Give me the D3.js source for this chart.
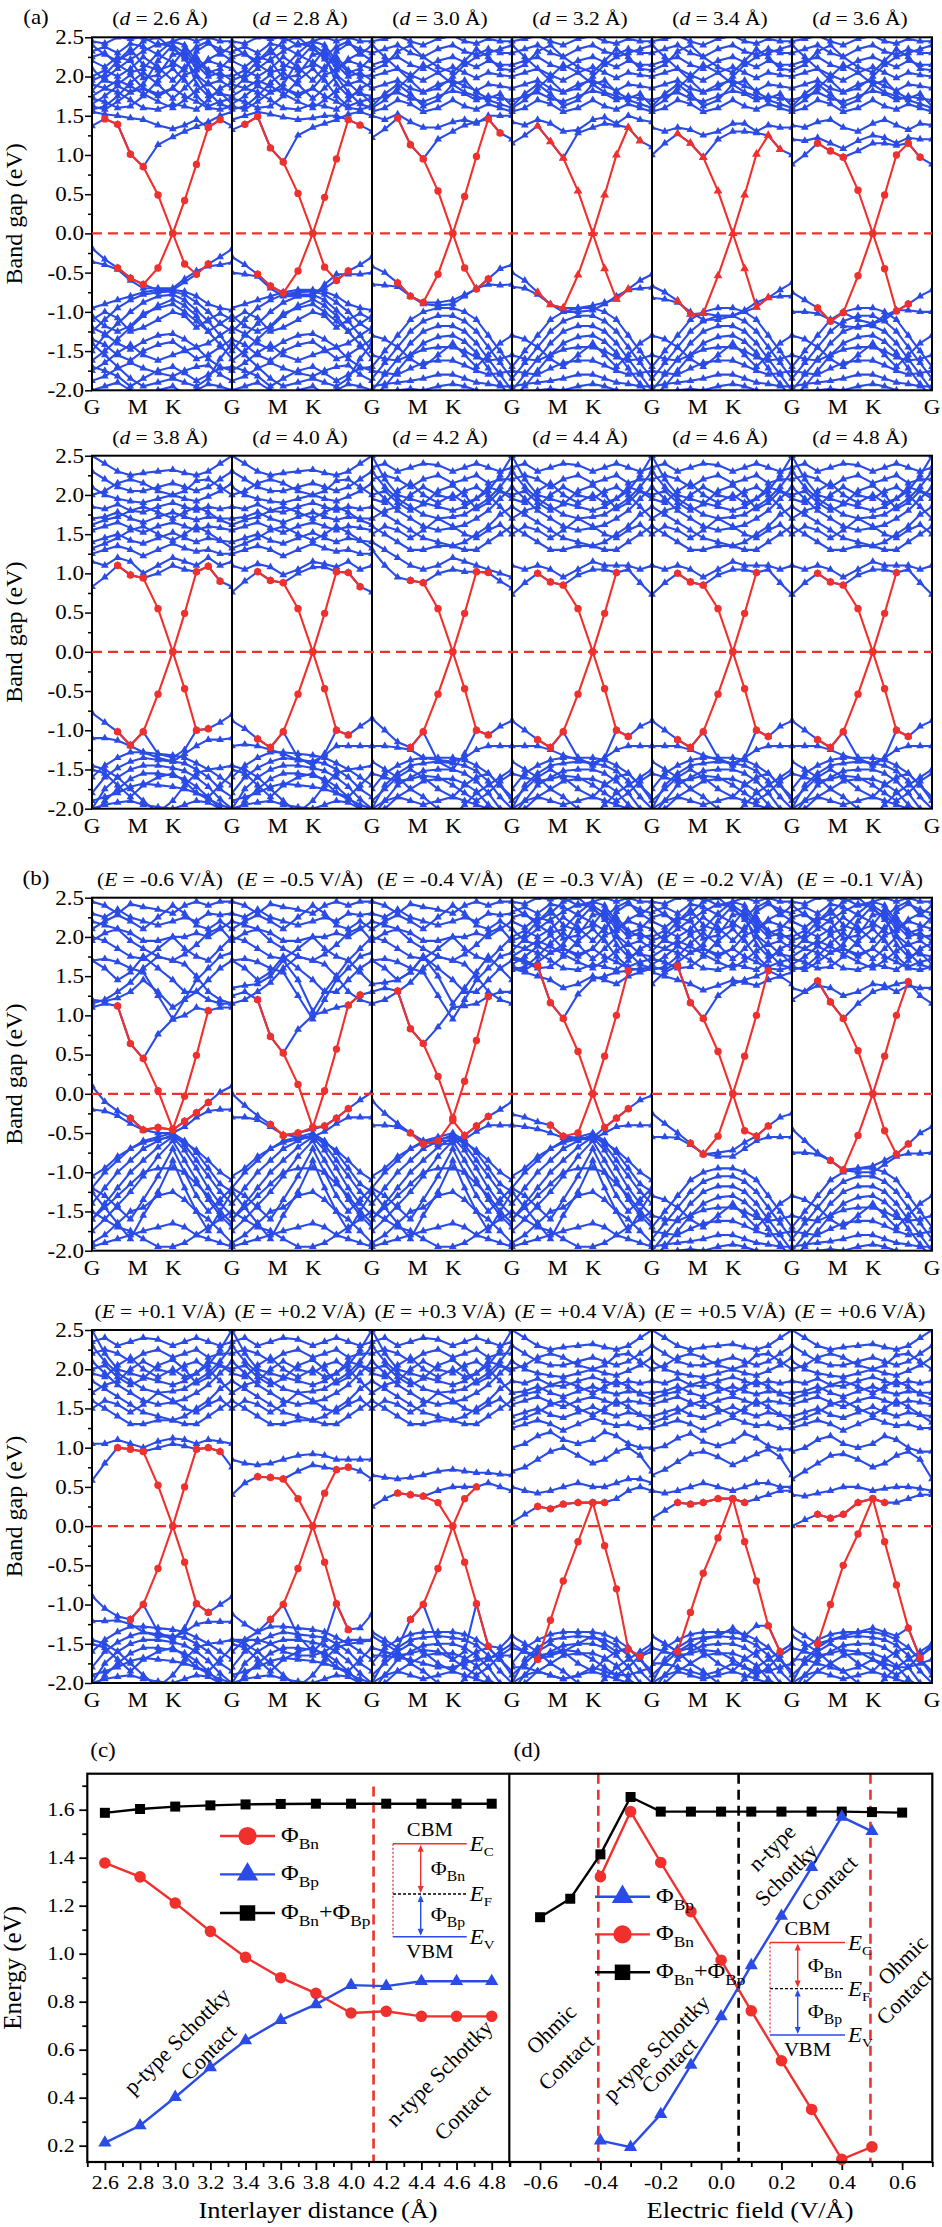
<!DOCTYPE html>
<html>
<head>
<meta charset="utf-8">
<script src="https://cdn.jsdelivr.net/npm/d3@7"></script>
<style>
  body { margin: 0; background: #fff; }
  text { font-family: "Liberation Serif", "Times New Roman", serif; fill: #000; }
</style>
</head>
<body>
<script>
// ---- k-path of every band panel (fraction of panel width) ----
const kFrac = [0, 0.0915, 0.183, 0.2745, 0.366, 0.4715, 0.577, 0.6615, 0.746, 0.8305, 0.915, 1];
const kLabels = ["G", "M", "K"];
const kLabelFrac = [0, 0.326, 0.58];
const bandTicks = [-2, -1.5, -1, -0.5, 0, 0.5, 1, 1.5, 2, 2.5];
const bandMinor = [-1.75, -1.25, -0.75, -0.25, 0.25, 0.75, 1.25, 1.75, 2.25];
const dValues = ["2.6", "2.8", "3.0", "3.2", "3.4", "3.6", "3.8", "4.0", "4.2", "4.4", "4.6", "4.8"];
const eValues = ["-0.6", "-0.5", "-0.4", "-0.3", "-0.2", "-0.1", "+0.1", "+0.2", "+0.3", "+0.4", "+0.5", "+0.6"];

// ---- dense blue band meshes (read roughly, reused where panels look alike) ----
const meshDenseUp = [
  [1.58,1.62,1.75,1.92,2.05,1.9,1.72,1.85,2.0,1.8,1.65,1.6],
  [1.72,1.68,1.6,1.62,1.75,1.95,2.1,1.95,1.75,1.62,1.68,1.72],
  [1.9,1.85,1.8,1.7,1.6,1.58,1.65,1.62,1.58,1.7,1.85,1.92],
  [2.0,2.08,2.0,2.1,2.25,2.12,1.95,2.12,2.25,2.08,2.0,2.02],
  [2.2,2.12,2.25,2.2,1.98,2.02,2.28,2.3,2.1,2.22,2.3,2.2],
  [2.32,2.38,2.3,2.42,2.38,2.28,2.18,2.08,2.32,2.42,2.35,2.3],
  [1.82,1.98,2.1,2.22,2.32,2.42,2.38,2.22,2.02,1.9,1.95,1.85],
  [2.1,1.95,1.9,2.02,1.85,1.75,1.85,2.02,2.08,2.2,2.15,2.1],
  [2.45,2.42,2.5,2.48,2.5,2.4,2.45,2.5,2.45,2.5,2.45,2.45],
  [1.65,1.75,1.88,1.8,1.9,2.2,2.4,2.3,1.9,1.75,1.8,1.65],
  [1.62,1.58,1.68,1.8,1.85,1.78,1.85,1.75,1.68,1.6,1.58,1.62],
  [2.25,2.3,2.15,2.05,2.1,2.3,2.45,2.4,2.2,2.05,2.1,2.25],
  [2.4,2.28,2.2,2.3,2.45,2.5,2.35,2.25,2.38,2.45,2.28,2.4],
  [1.95,2.02,2.2,2.35,2.15,2.08,2.15,2.35,2.15,2.0,2.05,1.95],
  [1.75,1.85,1.95,1.88,1.78,1.68,1.6,1.7,1.82,1.92,1.78,1.75]
];
const meshDenseLo = [
  [-0.95,-0.9,-0.85,-0.8,-0.75,-0.72,-0.72,-0.74,-0.8,-0.9,-0.95,-0.98],
  [-1.25,-1.1,-0.95,-0.85,-0.78,-0.75,-0.74,-0.78,-0.88,-1.0,-1.15,-1.25],
  [-1.5,-1.3,-1.15,-1.0,-0.88,-0.8,-0.78,-0.85,-0.98,-1.12,-1.3,-1.5],
  [-1.62,-1.5,-1.35,-1.2,-1.05,-0.92,-0.84,-0.92,-1.05,-1.25,-1.42,-1.6],
  [-1.2,-1.28,-1.4,-1.48,-1.38,-1.3,-1.28,-1.35,-1.45,-1.4,-1.3,-1.2],
  [-1.75,-1.65,-1.52,-1.42,-1.55,-1.62,-1.55,-1.5,-1.45,-1.6,-1.7,-1.75],
  [-1.88,-1.82,-1.72,-1.65,-1.72,-1.78,-1.82,-1.75,-1.7,-1.68,-1.8,-1.88],
  [-1.4,-1.55,-1.7,-1.85,-1.95,-1.9,-1.85,-1.9,-1.95,-1.85,-1.6,-1.4],
  [-2.0,-1.95,-1.9,-2.0,-2.1,-2.0,-1.95,-2.05,-2.0,-1.92,-1.95,-2.0],
  [-1.05,-1.18,-1.25,-1.18,-1.02,-0.95,-0.9,-1.0,-1.12,-1.25,-1.15,-1.05],
  [-1.35,-1.42,-1.55,-1.62,-1.5,-1.42,-1.38,-1.48,-1.6,-1.55,-1.45,-1.35],
  [-1.7,-1.75,-1.82,-1.95,-1.85,-1.75,-1.7,-1.78,-1.88,-1.8,-1.72,-1.7],
  [-1.1,-1.0,-1.08,-1.25,-1.2,-1.1,-1.0,-1.05,-1.2,-1.1,-1.02,-1.1]
];
const meshDotUp = [
  [1.55,1.6,1.7,1.65,1.55,1.6,1.7,1.62,1.58,1.65,1.6,1.55],
  [1.7,1.75,1.8,1.72,1.68,1.75,1.82,1.78,1.7,1.75,1.72,1.7],
  [1.85,1.9,1.95,1.85,1.8,1.9,1.95,1.88,1.82,1.9,1.88,1.85],
  [2.0,2.05,2.1,2.02,1.95,2.05,2.12,2.05,1.98,2.05,2.02,2.0],
  [2.15,2.2,2.25,2.15,2.1,2.2,2.25,2.18,2.12,2.2,2.15,2.15],
  [2.3,2.35,2.4,2.3,2.25,2.35,2.4,2.32,2.28,2.35,2.3,2.3],
  [2.45,2.48,2.52,2.45,2.4,2.48,2.52,2.45,2.42,2.48,2.45,2.45],
  [1.6,1.7,1.85,2.0,2.15,2.05,1.9,1.8,1.75,1.7,1.65,1.6],
  [2.4,2.25,2.1,1.95,1.8,1.85,2.0,2.15,2.25,2.3,2.35,2.4],
  [1.62,1.78,1.9,1.78,1.62,1.7,1.9,1.95,1.8,1.72,1.78,1.62],
  [2.08,2.15,2.32,2.4,2.25,2.12,2.05,2.2,2.35,2.25,2.1,2.08]
];
const meshDotLo = [
  [-1.7,-1.5,-1.3,-1.1,-1.0,-0.95,-0.95,-1.0,-1.1,-1.3,-1.5,-1.7],
  [-1.85,-1.65,-1.45,-1.25,-1.12,-1.05,-1.05,-1.12,-1.25,-1.45,-1.65,-1.85],
  [-2.0,-1.8,-1.6,-1.4,-1.25,-1.18,-1.18,-1.25,-1.4,-1.6,-1.8,-2.0],
  [-2.1,-1.95,-1.75,-1.55,-1.4,-1.32,-1.3,-1.38,-1.52,-1.72,-1.92,-2.1],
  [-1.55,-1.6,-1.62,-1.55,-1.48,-1.45,-1.45,-1.5,-1.58,-1.62,-1.6,-1.55],
  [-1.75,-1.78,-1.8,-1.72,-1.65,-1.62,-1.62,-1.68,-1.75,-1.8,-1.78,-1.75],
  [-1.95,-1.92,-1.9,-1.88,-1.85,-1.8,-1.8,-1.85,-1.9,-1.92,-1.95,-1.95],
  [-2.1,-2.05,-2.0,-1.98,-2.0,-1.95,-1.92,-1.95,-2.0,-2.05,-2.1,-2.1],
  [-1.3,-1.35,-1.45,-1.6,-1.7,-1.55,-1.4,-1.55,-1.7,-1.55,-1.4,-1.3]
];
const meshTriUp = [
  [1.25,1.3,1.35,1.3,1.22,1.3,1.38,1.32,1.28,1.3,1.25,1.25],
  [1.4,1.45,1.5,1.42,1.38,1.45,1.52,1.45,1.4,1.45,1.42,1.4],
  [1.55,1.6,1.65,1.58,1.52,1.6,1.65,1.6,1.55,1.6,1.58,1.55],
  [1.7,1.72,1.78,1.7,1.65,1.72,1.78,1.72,1.68,1.72,1.7,1.7],
  [1.85,1.82,1.88,1.8,1.78,1.85,1.9,1.85,1.8,1.85,1.82,1.85],
  [2.1,2.0,1.95,1.92,1.9,1.95,2.0,1.95,1.92,1.98,2.05,2.15],
  [2.3,2.2,2.1,2.05,2.05,2.1,2.15,2.1,2.05,2.1,2.2,2.3],
  [2.5,2.4,2.3,2.25,2.28,2.3,2.32,2.28,2.25,2.3,2.4,2.5],
  [1.32,1.38,1.45,1.55,1.6,1.5,1.42,1.5,1.6,1.52,1.42,1.32],
  [1.62,1.68,1.72,1.8,1.85,1.78,1.7,1.78,1.85,1.78,1.68,1.62],
  [2.0,2.05,2.15,2.2,2.15,2.05,2.0,2.05,2.18,2.2,2.1,2.0]
];
const meshTriLo = [
  [-1.6,-1.45,-1.35,-1.28,-1.28,-1.3,-1.32,-1.35,-1.42,-1.5,-1.6,-1.7],
  [-1.8,-1.6,-1.48,-1.4,-1.35,-1.38,-1.4,-1.42,-1.5,-1.6,-1.75,-1.85],
  [-2.0,-1.75,-1.6,-1.5,-1.45,-1.45,-1.48,-1.52,-1.6,-1.72,-1.88,-2.0],
  [-2.1,-1.9,-1.75,-1.62,-1.55,-1.55,-1.58,-1.62,-1.72,-1.85,-2.0,-2.1],
  [-1.9,-1.85,-1.8,-1.72,-1.68,-1.7,-1.72,-1.75,-1.8,-1.88,-1.95,-2.0],
  [-2.0,-1.95,-1.92,-1.9,-1.95,-1.98,-2.0,-1.95,-1.9,-1.92,-2.0,-2.05],
  [-1.45,-1.5,-1.6,-1.75,-1.9,-2.05,-1.9,-1.7,-1.55,-1.5,-1.48,-1.45],
  [-1.5,-1.55,-1.7,-1.85,-1.7,-1.6,-1.55,-1.65,-1.8,-1.85,-1.7,-1.55]
];
const meshGridUp = [
  [2.5,2.2,2.0,1.95,1.9,1.85,1.8,1.85,1.95,2.05,2.25,2.5],
  [2.3,2.1,1.95,1.85,1.75,1.7,1.72,1.75,1.85,1.95,2.1,2.3],
  [2.1,1.95,1.8,1.7,1.6,1.55,1.58,1.62,1.7,1.8,1.95,2.1],
  [1.85,1.75,1.65,1.55,1.45,1.4,1.35,1.4,1.5,1.6,1.75,1.85],
  [1.6,1.5,1.4,1.3,1.3,1.35,1.35,1.3,1.3,1.4,1.5,1.6],
  [2.2,2.25,2.2,2.1,2.2,2.25,2.15,2.2,2.25,2.15,2.2,2.2],
  [1.7,1.8,1.85,2.0,2.1,2.0,1.95,2.05,2.1,2.0,1.85,1.7],
  [1.95,1.9,2.05,2.15,2.0,1.9,2.0,1.9,1.95,2.1,2.05,1.95],
  [2.35,2.4,2.3,2.35,2.4,2.38,2.3,2.35,2.4,2.35,2.3,2.35],
  [1.5,1.6,1.55,1.45,1.55,1.7,1.6,1.5,1.45,1.55,1.62,1.5],
  [2.0,2.05,1.9,1.8,1.88,2.05,2.12,2.0,1.82,1.9,2.05,2.0]
];
const meshGridLo = [
  [-1.75,-1.55,-1.45,-1.38,-1.35,-1.35,-1.35,-1.38,-1.45,-1.55,-1.7,-1.85],
  [-2.0,-1.7,-1.55,-1.45,-1.42,-1.4,-1.42,-1.45,-1.52,-1.65,-1.85,-2.0],
  [-2.1,-1.9,-1.7,-1.6,-1.52,-1.5,-1.5,-1.55,-1.65,-1.8,-2.0,-2.1],
  [-2.1,-2.0,-1.85,-1.75,-1.65,-1.62,-1.62,-1.68,-1.78,-1.95,-2.05,-2.1],
  [-1.4,-1.5,-1.6,-1.75,-1.85,-2.0,-2.1,-1.95,-1.8,-1.7,-1.6,-1.5],
  [-2.0,-1.9,-1.85,-1.9,-1.95,-1.9,-1.85,-1.9,-1.95,-2.0,-2.05,-2.1],
  [-1.55,-1.6,-1.65,-1.62,-1.58,-1.6,-1.7,-1.8,-1.9,-1.8,-1.65,-1.55],
  [-1.9,-1.75,-1.6,-1.5,-1.6,-1.75,-1.85,-1.7,-1.6,-1.55,-1.7,-1.9]
];
const meshWideUp = [
  [1.7,1.72,1.68,1.6,1.55,1.25,0.95,1.2,1.45,1.6,1.75,1.8],
  [1.15,1.2,1.3,1.42,1.6,1.75,1.7,1.65,1.5,1.3,1.2,1.15],
  [1.7,1.6,1.45,1.55,1.75,1.6,1.45,1.3,1.3,1.45,1.6,1.7],
  [2.0,1.95,1.85,1.75,1.72,1.85,2.0,1.85,1.75,1.7,1.85,2.0],
  [2.2,2.15,2.1,2.05,1.95,1.95,2.0,2.0,2.05,2.0,2.1,2.2],
  [2.3,2.25,2.35,2.25,2.2,2.15,2.2,2.25,2.2,2.3,2.28,2.3],
  [2.45,2.4,2.3,2.42,2.38,2.35,2.3,2.4,2.45,2.4,2.45,2.45],
  [2.1,2.2,2.28,2.2,2.1,2.25,2.4,2.3,2.15,2.1,2.2,2.1],
  [1.95,2.05,2.1,1.95,1.85,1.75,1.7,1.78,1.9,2.05,2.12,1.95]
];
const meshFanLo = [
  [-1.2,-1.0,-0.85,-0.7,-0.6,-0.55,-0.5,-0.6,-0.75,-0.95,-1.15,-1.25],
  [-1.4,-1.2,-1.0,-0.85,-0.7,-0.6,-0.52,-0.65,-0.85,-1.05,-1.25,-1.4],
  [-1.6,-1.4,-1.2,-1.0,-0.85,-0.68,-0.55,-0.72,-0.95,-1.2,-1.4,-1.55],
  [-1.75,-1.6,-1.42,-1.25,-1.05,-0.8,-0.6,-0.85,-1.1,-1.35,-1.55,-1.7],
  [-1.2,-1.3,-1.45,-1.6,-1.35,-1.05,-0.7,-1.0,-1.3,-1.5,-1.35,-1.2],
  [-1.25,-1.45,-1.65,-1.85,-1.55,-1.25,-0.85,-1.2,-1.5,-1.75,-1.5,-1.25],
  [-1.9,-1.8,-1.65,-1.5,-1.45,-1.3,-1.25,-1.35,-1.5,-1.6,-1.75,-1.9],
  [-1.95,-1.9,-1.85,-1.8,-1.75,-1.7,-1.65,-1.7,-1.8,-1.85,-1.9,-1.95],
  [-1.5,-1.6,-1.7,-1.75,-1.85,-1.95,-1.95,-1.9,-1.8,-1.7,-1.6,-1.5],
  [-1.05,-0.95,-0.8,-0.7,-0.62,-0.58,-0.55,-0.62,-0.72,-0.85,-1.0,-1.1],
  [-1.6,-1.45,-1.3,-1.15,-1.0,-0.95,-0.95,-1.0,-1.15,-1.3,-1.5,-1.65]
];

// ---- (a) upper row, d = 2.6 ... 3.6 ----
const cbA1 = [
  [null,1.46,1.39,1.01,0.85,0.49,0,0.42,0.88,1.35,1.45,null],
  [null,1.39,1.49,1.09,0.91,0.51,0,0.46,0.95,1.45,1.38,null],
  [null,null,1.47,1.13,0.95,0.54,0,0.47,0.98,1.46,1.28,null],
  [null,null,1.37,1.17,0.96,0.54,0,0.49,1.0,1.35,1.18,null],
  [null,null,1.27,1.15,0.97,0.54,0,0.49,1.01,1.25,1.07,null],
  [null,null,1.15,1.05,0.97,0.55,0,0.49,1.0,1.15,0.97,null]
];
const vbA1 = [
  [null,null,-0.44,-0.57,-0.65,-0.44,0,-0.39,-0.52,-0.39,null,null],
  [null,null,-0.52,-0.67,-0.76,-0.48,0,-0.43,-0.6,-0.48,null,null],
  [null,null,-0.63,-0.8,-0.88,-0.52,0,-0.44,-0.71,-0.58,null,null],
  [null,null,-0.75,-0.91,-0.95,-0.53,0,-0.45,-0.84,-0.71,null,null],
  [null,null,-0.86,-1.03,-1.02,-0.54,0,-0.45,-0.94,-0.82,null,null],
  [null,null,-0.95,-1.12,-1.01,-0.54,0,-0.45,-0.99,-0.9,null,null]
];
const edgeA1 = [
  [[1.37,1.46,1.39,1.01,0.85,1.13,1.23,1.3,1.36,1.42,1.5,1.55],
   [1.55,1.52,1.5,1.47,1.45,1.38,1.33,1.38,1.45,1.35,1.45,1.37],
   [-0.19,-0.33,-0.44,-0.57,-0.65,-0.72,-0.72,-0.62,-0.52,-0.39,-0.3,-0.2],
   [-0.36,-0.4,-0.46,-0.6,-0.7,-0.7,-0.7,-0.58,-0.48,-0.42,-0.4,-0.37]],
  [[1.32,1.39,1.49,1.09,0.91,1.25,1.35,1.4,1.45,1.52,1.55,1.5],
   [1.45,1.5,1.55,1.52,1.48,1.45,1.47,1.5,1.5,1.45,1.38,1.3],
   [-0.3,-0.4,-0.52,-0.67,-0.76,-0.78,-0.78,-0.7,-0.6,-0.48,-0.4,-0.3],
   [-0.5,-0.52,-0.55,-0.7,-0.8,-0.8,-0.8,-0.65,-0.52,-0.52,-0.52,-0.5]],
  [[1.22,1.33,1.47,1.13,0.95,1.2,1.3,1.38,1.42,1.46,1.28,1.2],
   [1.5,1.45,1.52,1.42,1.35,1.35,1.42,1.45,1.4,1.5,1.5,1.5],
   [-0.42,-0.5,-0.63,-0.8,-0.88,-0.88,-0.85,-0.78,-0.71,-0.58,-0.45,-0.4],
   [-0.65,-0.66,-0.68,-0.8,-0.9,-0.92,-0.9,-0.8,-0.7,-0.65,-0.66,-0.65]],
  [[1.15,1.25,1.37,1.17,0.96,1.28,1.35,1.4,1.38,1.35,1.18,1.1],
   [1.42,1.38,1.45,1.4,1.3,1.32,1.45,1.48,1.4,1.5,1.45,1.42],
   [-0.5,-0.6,-0.75,-0.91,-0.95,-0.95,-0.92,-0.88,-0.84,-0.71,-0.6,-0.52],
   [-0.68,-0.7,-0.78,-0.9,-1.0,-1.0,-0.98,-0.9,-0.8,-0.72,-0.7,-0.69]],
  [[1.0,1.15,1.27,1.15,0.97,1.2,1.3,1.3,1.28,1.25,1.07,1.0],
   [1.35,1.3,1.35,1.32,1.25,1.3,1.4,1.4,1.3,1.38,1.35,1.35],
   [-0.67,-0.75,-0.86,-1.03,-1.02,-1.05,-1.05,-1.0,-0.94,-0.82,-0.72,-0.63],
   [-0.82,-0.84,-0.88,-1.0,-1.1,-1.1,-1.05,-0.98,-0.88,-0.82,-0.8,-0.8]],
  [[0.88,1.0,1.15,1.05,0.97,1.05,1.15,1.15,1.12,1.15,0.97,0.88],
   [1.2,1.18,1.22,1.15,1.08,1.18,1.25,1.22,1.15,1.22,1.2,1.2],
   [-0.75,-0.85,-0.95,-1.12,-1.01,-1.1,-1.15,-1.1,-0.99,-0.9,-0.8,-0.72],
   [-1.0,-1.0,-1.02,-1.1,-1.18,-1.2,-1.15,-1.05,-0.98,-0.98,-1.0,-1.0],
   [1.38,1.35,1.42,1.45,1.35,1.3,1.4,1.45,1.38,1.32,1.4,1.38]]
];
const meshA1 = [["denseUp","denseLo"],["denseUp","denseLo"],["dotUp","dotLo"],["dotUp","dotLo"],["dotUp","dotLo"],["dotUp","dotLo"]];
const triA1 = [false, false, false, true, true, false];

// ---- (a) lower row, d = 3.8 ... 4.8 ----
const cbA2 = [
  [null,null,1.1,0.98,0.94,0.55,0,0.49,1.02,1.09,0.9,null],
  [null,null,1.02,0.91,0.88,0.55,0,0.49,1.02,1.01,0.83,null],
  [null,null,null,0.91,0.88,0.55,0,0.49,1.02,1.01,null,null],
  [null,null,1.0,0.89,0.85,0.55,0,0.49,1.01,null,null,null],
  [null,null,1.0,0.89,0.85,0.55,0,0.49,1.01,null,null,null],
  [null,null,1.0,0.89,0.85,0.55,0,0.49,1.01,null,null,null]
];
const vbA2 = [
  [null,null,-1.02,-1.19,-1.02,-0.54,0,-0.47,-1.0,-0.98,null,null],
  [null,null,-1.11,-1.22,-1.02,-0.54,0,-0.47,-1.0,-1.06,null,null],
  [null,null,null,-1.22,-1.02,-0.54,0,-0.47,-1.0,-1.06,null,null],
  [null,null,-1.12,-1.22,-1.02,-0.54,0,-0.47,-1.0,-1.08,null,null],
  [null,null,-1.12,-1.22,-1.02,-0.54,0,-0.47,-1.0,-1.08,null,null],
  [null,null,-1.12,-1.22,-1.02,-0.54,0,-0.47,-1.0,-1.08,null,null]
];
const edgeFar = [
  [0.73,0.88,1.0,0.89,0.85,0.98,1.05,1.05,1.01,1.05,0.88,0.73],
  [1.1,1.05,1.1,1.05,0.95,1.05,1.15,1.1,1.1,1.1,1.05,1.1],
  [-0.88,-1.0,-1.12,-1.22,-1.02,-1.35,-1.45,-1.35,-1.0,-1.08,-0.95,-0.88],
  [-1.2,-1.2,-1.2,-1.25,-1.32,-1.38,-1.42,-1.35,-1.25,-1.2,-1.2,-1.2]
];
const edgeA2 = [
  [[0.83,0.95,1.1,0.98,0.94,1.0,1.1,1.05,1.02,1.09,0.9,0.83],
   [1.15,1.1,1.2,1.15,1.0,1.1,1.2,1.15,1.1,1.2,1.1,1.15],
   [-0.78,-0.9,-1.02,-1.19,-1.02,-1.3,-1.35,-1.25,-1.0,-0.98,-0.9,-0.8],
   [-1.1,-1.1,-1.13,-1.2,-1.28,-1.35,-1.4,-1.3,-1.2,-1.12,-1.12,-1.1]],
  [[0.76,0.9,1.02,0.91,0.88,1.0,1.08,1.08,1.02,1.01,0.83,0.76],
   [1.1,1.05,1.12,1.08,0.98,1.05,1.15,1.12,1.08,1.15,1.05,1.1],
   [-0.88,-0.98,-1.11,-1.22,-1.02,-1.35,-1.45,-1.3,-1.0,-1.06,-0.95,-0.85],
   [-1.2,-1.18,-1.2,-1.25,-1.3,-1.38,-1.4,-1.32,-1.2,-1.2,-1.2,-1.2]],
  [[1.3,1.1,0.95,0.91,0.88,1.0,1.05,1.02,1.02,1.01,0.9,0.81],
   [1.4,1.3,1.2,1.1,1.05,1.1,1.2,1.15,1.1,1.05,1.0,0.95],
   [-0.85,-1.0,-1.15,-1.22,-1.02,-1.4,-1.5,-1.3,-1.0,-1.06,-0.95,-0.88],
   [-1.2,-1.2,-1.22,-1.25,-1.35,-1.38,-1.4,-1.35,-1.25,-1.2,-1.2,-1.2]],
  edgeFar, edgeFar, edgeFar
];
const meshA2 = [["triUp","triLo"],["triUp","triLo"],["gridUp","gridLo"],["gridUp","gridLo"],["gridUp","gridLo"],["gridUp","gridLo"]];
const triA2 = [false, false, false, false, false, false];

// ---- (b) upper row, E = -0.6 ... -0.1 V/Å ----
const cbB1 = [
  [null,null,1.12,0.64,0.45,0.04,-0.45,-0.03,0.49,1.06,null,null],
  [null,null,1.2,0.73,0.52,0.12,-0.43,0.04,0.57,1.13,1.26,null],
  [null,null,1.31,0.83,0.64,0.22,-0.31,0.16,0.68,1.24,null,null],
  [null,null,1.63,1.16,0.96,0.54,0,0.48,1.0,1.57,null,null],
  [null,null,1.63,1.16,0.96,0.54,0,0.48,1.0,1.57,null,null],
  [null,null,1.44,1.17,0.96,0.55,0,0.48,1.0,1.43,null,null]
];
const vbB1 = [
  [null,null,null,-0.31,-0.46,-0.43,-0.46,-0.35,-0.24,-0.11,null,null],
  [null,null,null,-0.39,-0.53,-0.5,-0.43,-0.41,-0.31,-0.19,null,null],
  [null,null,null,-0.5,-0.64,-0.6,-0.34,-0.53,-0.41,-0.29,null,null],
  [null,null,null,-0.4,-0.54,-0.5,0,-0.43,-0.31,-0.19,null,null],
  [null,null,null,-0.63,-0.77,-0.54,0,-0.47,-0.54,-0.41,null,null],
  [null,null,null,-0.85,-0.97,-0.53,0,-0.47,-0.77,-0.64,null,null]
];
const edgeB1 = [
  [[1.1,1.15,1.12,0.64,0.45,0.76,0.95,1.0,1.1,1.06,1.1,1.1],
   [1.2,1.18,1.22,1.3,1.45,1.3,1.1,1.2,1.3,1.2,1.15,1.15],
   [0.1,-0.1,-0.22,-0.31,-0.46,-0.43,-0.46,-0.35,-0.24,-0.11,0.02,0.1],
   [-0.2,-0.22,-0.28,-0.38,-0.46,-0.5,-0.5,-0.42,-0.3,-0.22,-0.2,-0.2]],
  [[1.25,1.3,1.2,0.73,0.52,0.82,1.0,1.05,1.1,1.13,1.26,1.3],
   [1.35,1.38,1.4,1.5,1.7,1.45,1.05,1.3,1.5,1.7,1.55,1.4],
   [0.0,-0.15,-0.28,-0.39,-0.53,-0.5,-0.45,-0.41,-0.31,-0.19,-0.08,0.02],
   [-0.3,-0.3,-0.33,-0.42,-0.52,-0.55,-0.55,-0.48,-0.38,-0.3,-0.3,-0.3]],
  [[1.3,1.35,1.31,0.83,0.64,0.85,1.1,1.12,1.15,1.24,1.3,1.3],
   [1.4,1.42,1.45,1.55,1.75,1.5,1.15,1.35,1.55,1.75,1.6,1.45],
   [-0.09,-0.25,-0.38,-0.5,-0.64,-0.6,-0.6,-0.53,-0.41,-0.29,-0.2,-0.1],
   [-0.4,-0.4,-0.42,-0.5,-0.6,-0.65,-0.63,-0.58,-0.48,-0.4,-0.4,-0.4]],
  [[1.75,1.7,1.63,1.16,0.96,1.27,1.46,1.5,1.55,1.57,1.6,1.6],
   [1.6,1.55,1.5,1.45,1.35,1.4,1.5,1.45,1.4,1.5,1.55,1.6],
   [-0.26,-0.3,-0.36,-0.4,-0.54,-0.56,-0.56,-0.43,-0.31,-0.19,-0.08,-0.02],
   [-0.4,-0.42,-0.45,-0.5,-0.56,-0.58,-0.58,-0.5,-0.42,-0.4,-0.4,-0.4]],
  [[1.4,1.55,1.63,1.16,0.96,1.25,1.4,1.45,1.5,1.57,1.5,1.4],
   [1.55,1.5,1.45,1.4,1.32,1.38,1.45,1.42,1.38,1.45,1.5,1.55],
   [-0.25,-0.38,-0.5,-0.63,-0.77,-0.75,-0.72,-0.62,-0.54,-0.41,-0.3,-0.25],
   [-0.55,-0.55,-0.56,-0.65,-0.76,-0.8,-0.8,-0.7,-0.6,-0.55,-0.55,-0.55]],
  [[1.2,1.3,1.44,1.17,0.96,1.15,1.3,1.35,1.4,1.43,1.25,1.15],
   [1.35,1.3,1.38,1.35,1.25,1.3,1.4,1.38,1.3,1.38,1.35,1.35],
   [-0.45,-0.6,-0.75,-0.85,-0.97,-0.95,-0.92,-0.85,-0.77,-0.64,-0.5,-0.42],
   [-0.75,-0.75,-0.77,-0.85,-0.97,-1.0,-1.0,-0.9,-0.8,-0.76,-0.76,-0.75]]
];
const meshB1 = [["wideUp","fanLo"],["wideUp","fanLo"],["wideUp","fanLo"],["denseUp","fanLo"],["denseUp","dotLo"],["denseUp","dotLo"]];
const triB1 = [false, false, false, false, false, false];

// ---- (b) lower row, E = +0.1 ... +0.6 V/Å ----
const cbB2 = [
  [null,null,1.0,0.98,0.95,0.52,0,0.5,0.98,1.0,0.95,null],
  [null,null,0.63,0.62,0.6,0.35,0,0.42,0.72,0.75,null,null],
  [null,null,0.42,0.4,0.38,0.3,0,0.35,0.5,null,null,null],
  [null,null,0.25,0.22,0.28,0.3,0.3,0.3,null,null,null,null],
  [null,null,0.3,0.28,0.3,0.35,0.35,0.3,null,null,null,null],
  [null,null,0.15,0.1,0.15,0.3,0.35,0.3,null,null,null,null]
];
const vbB2 = [
  [null,null,null,-1.19,-1.0,-0.54,0,-0.46,-0.99,-1.1,null,null],
  [null,null,null,-1.19,-1.0,-0.54,0,-0.46,-0.99,-1.32,null,null],
  [null,null,null,-1.19,-1.0,-0.54,0,-0.46,-0.99,-1.53,null,null],
  [null,null,-1.7,-1.2,-0.7,-0.2,0.3,-0.25,-0.8,-1.57,-1.66,null],
  [null,null,-1.6,-1.1,-0.6,-0.15,0.35,-0.2,-0.7,-1.27,-1.6,null],
  [null,null,-1.5,-1.0,-0.5,-0.1,0.35,-0.2,-0.75,-1.3,-1.68,null]
];
const edgeB2 = [
  [[0.58,0.8,1.0,0.98,0.95,1.0,1.05,1.02,0.98,1.0,0.95,0.75],
   [1.05,1.05,1.1,1.05,1.0,1.08,1.12,1.1,1.05,1.1,1.08,1.05],
   [-0.89,-1.05,-1.15,-1.19,-1.0,-1.35,-1.45,-1.3,-0.99,-1.1,-1.0,-0.9],
   [-1.21,-1.21,-1.2,-1.25,-1.35,-1.4,-1.42,-1.35,-1.25,-1.22,-1.22,-1.22]],
  [[0.4,0.55,0.63,0.62,0.6,0.7,0.78,0.75,0.72,0.75,0.7,0.6],
   [0.85,0.8,0.78,0.8,0.85,0.9,0.92,0.9,0.85,0.85,0.85,0.85],
   [-1.12,-1.25,-1.35,-1.19,-1.0,-1.4,-1.6,-1.45,-0.99,-1.32,-1.3,-1.12],
   [-1.45,-1.45,-1.45,-1.5,-1.6,-1.65,-1.65,-1.6,-1.5,-1.45,-1.45,-1.45]],
  [[0.25,0.35,0.42,0.4,0.38,0.45,0.5,0.5,0.5,0.55,0.5,0.45],
   [0.65,0.62,0.6,0.62,0.65,0.7,0.72,0.7,0.68,0.68,0.66,0.65],
   [-1.35,-1.45,-1.55,-1.19,-1.0,-1.5,-1.7,-1.6,-0.99,-1.53,-1.55,-1.4],
   [-1.65,-1.65,-1.68,-1.7,-1.75,-1.8,-1.8,-1.75,-1.7,-1.68,-1.65,-1.65]],
  [[0.05,0.15,0.25,0.22,0.28,0.3,0.3,0.3,0.35,0.45,0.5,0.45],
   [0.5,0.45,0.42,0.45,0.5,0.55,0.5,0.5,0.55,0.6,0.6,0.55],
   [-1.5,-1.6,-1.7,-1.65,-1.6,-1.5,-1.4,-1.5,-1.6,-1.57,-1.66,-1.6],
   [-1.8,-1.8,-1.85,-1.9,-1.95,-1.9,-1.8,-1.85,-1.9,-1.9,-1.85,-1.8],
   [0.7,0.75,0.85,0.95,1.0,0.9,0.8,0.85,0.95,1.0,0.9,0.7],
   [1.0,1.05,1.15,1.2,1.1,1.05,1.1,1.2,1.15,1.05,1.0,1.0]],
  [[0.1,0.2,0.3,0.28,0.3,0.35,0.35,0.3,0.35,0.4,0.45,0.45],
   [0.45,0.42,0.45,0.5,0.55,0.5,0.45,0.5,0.55,0.55,0.5,0.5],
   [-1.4,-1.5,-1.6,-1.55,-1.45,-1.4,-1.3,-1.4,-1.27,-1.27,-1.6,-1.5],
   [-1.75,-1.75,-1.8,-1.85,-1.9,-1.85,-1.75,-1.8,-1.85,-1.85,-1.8,-1.75],
   [0.65,0.72,0.82,0.92,0.95,0.88,0.78,0.85,0.92,0.98,0.88,0.65],
   [0.98,1.02,1.12,1.18,1.08,1.02,1.08,1.18,1.12,1.02,0.98,0.98]],
  [[0.0,0.08,0.15,0.1,0.15,0.3,0.35,0.3,0.3,0.35,0.4,0.4],
   [0.4,0.38,0.42,0.45,0.5,0.5,0.45,0.48,0.5,0.5,0.48,0.45],
   [-1.3,-1.4,-1.5,-1.45,-1.4,-1.35,-1.3,-1.35,-1.4,-1.3,-1.68,-1.5],
   [-1.7,-1.7,-1.75,-1.8,-1.85,-1.8,-1.7,-1.75,-1.8,-1.8,-1.75,-1.7],
   [0.6,0.7,0.8,0.9,0.92,0.85,0.75,0.8,0.9,0.95,0.85,0.6],
   [0.95,1.0,1.1,1.15,1.05,1.0,1.05,1.15,1.1,1.0,0.95,0.95]]
];
const meshB2 = [["gridUp","triLo"],["gridUp","triLo"],["gridUp","gridLo"],["triUp","gridLo"],["triUp","gridLo"],["triUp","gridLo"]];
const triB2 = [false, false, false, false, false, false];

// ---- (c) barrier heights vs interlayer distance ----
const distC = [2.6, 2.8, 3.0, 3.2, 3.4, 3.6, 3.8, 4.0, 4.2, 4.4, 4.6, 4.8];
const phiBnC = [1.378, 1.32, 1.211, 1.093, 0.985, 0.9, 0.835, 0.753, 0.76, 0.739, 0.739, 0.739];
const phiBpC = [0.212, 0.284, 0.402, 0.526, 0.638, 0.723, 0.789, 0.869, 0.865, 0.885, 0.885, 0.885];
const phiSumC = [1.587, 1.603, 1.613, 1.618, 1.622, 1.624, 1.625, 1.625, 1.625, 1.625, 1.625, 1.625];
const dividerC = 4.128;

// ---- (d) barrier heights vs electric field ----
const fieldD = [-0.6, -0.5, -0.4, -0.3, -0.2, -0.1, 0.0, 0.1, 0.2, 0.3, 0.4, 0.5, 0.6];
const fieldBD = [-0.4, -0.3, -0.2, -0.1, 0.0, 0.1, 0.2, 0.3, 0.4, 0.5];
const phiBnD = [1.321, 1.592, 1.38, 1.175, 0.973, 0.762, 0.554, 0.351, 0.143, 0.195];
const phiBpD = [0.221, 0.194, 0.331, 0.536, 0.738, 0.951, 1.157, 1.36, 1.57, 1.51];
const phiSumD = [1.152, 1.229, 1.414, 1.653, 1.592, 1.592, 1.592, 1.592, 1.592, 1.592, 1.592, 1.59, 1.588];
const dividersD = [-0.407, 0.495];
const neutralD = 0.058;

// ================= drawing =================
const BLUE = "#2a4be6", RED = "#f0302c";
const SX = 1.15; // the original figure is slightly stretched sideways
const meshes = {
  denseUp: meshDenseUp, denseLo: meshDenseLo, dotUp: meshDotUp, dotLo: meshDotLo,
  triUp: meshTriUp, triLo: meshTriLo, gridUp: meshGridUp, gridLo: meshGridLo,
  wideUp: meshWideUp, fanLo: meshFanLo
};

const svg = d3.select("body").append("svg").attr("width", 942).attr("height", 2227);
const defs = svg.append("defs");

function addText(g, x, y, size, anchor, sx) {
  return g.append("text")
    .attr("transform", `translate(${x},${y}) scale(${sx || SX},1)`)
    .attr("text-anchor", anchor || "middle")
    .style("font-size", size + "px");
}

function drawBand(g, xs, ys, vals, color, mark) {
  const pts = vals.map((v, j) => [kFrac[j], v]);
  const line = d3.line().defined(d => d[1] !== null).x(d => xs(d[0])).y(d => ys(d[1]));
  g.append("path").attr("d", line(pts)).attr("fill", "none")
    .attr("stroke", color).attr("stroke-width", 2.1);
  const valid = pts.filter(d => d[1] !== null);
  if (mark === "circle") {
    g.selectAll(null).data(valid).join("circle")
      .attr("cx", d => xs(d[0])).attr("cy", d => ys(d[1])).attr("r", 3.7).attr("fill", color);
  } else {
    g.selectAll(null).data(valid).join("path")
      .attr("d", d3.symbol().type(d3.symbolTriangle).size(mark === "bigtri" ? 34 : 26))
      .attr("transform", d => `translate(${xs(d[0])},${ys(d[1])})`)
      .attr("fill", color);
  }
}

const panelX0 = 92, panelW = 140, panelH = 353;
const rows = [
  { top: 37.3, names: dValues.slice(0, 6), sym: "d", unit: " Å)", cb: cbA1, vb: vbA1, edge: edgeA1, mesh: meshA1, tri: triA1, tag: "(a)" },
  { top: 455.7, names: dValues.slice(6), sym: "d", unit: " Å)", cb: cbA2, vb: vbA2, edge: edgeA2, mesh: meshA2, tri: triA2 },
  { top: 897.7, names: eValues.slice(0, 6), sym: "E", unit: " V/Å)", cb: cbB1, vb: vbB1, edge: edgeB1, mesh: meshB1, tri: triB1, tag: "(b)" },
  { top: 1330, names: eValues.slice(6), sym: "E", unit: " V/Å)", cb: cbB2, vb: vbB2, edge: edgeB2, mesh: meshB2, tri: triB2 }
];

rows.forEach((row, r) => {
  const yB = d3.scaleLinear().domain([-2, 2.5]).range([row.top + panelH, row.top]);

  for (let i = 0; i < 6; i++) {
    const x0 = panelX0 + i * panelW;
    const xB = d3.scaleLinear().domain([0, 1]).range([x0, x0 + panelW]);
    const cid = `clip${r}_${i}`;
    defs.append("clipPath").attr("id", cid).append("rect")
      .attr("x", x0).attr("y", row.top).attr("width", panelW).attr("height", panelH);
    const pg = svg.append("g").attr("clip-path", `url(#${cid})`);

    const blue = meshes[row.mesh[i][0]].concat(meshes[row.mesh[i][1]], row.edge[i]);
    blue.forEach(b => drawBand(pg, xB, yB, b, BLUE, "tri"));
    const redMark = row.tri[i] ? "bigtri" : "circle";
    drawBand(pg, xB, yB, row.vb[i], RED, redMark);
    drawBand(pg, xB, yB, row.cb[i], RED, redMark);

    // panel title
    const t = addText(svg, x0 + 68, row.top - 12, 19.5, "middle", 1.1);
    t.append("tspan").text("(");
    t.append("tspan").style("font-style", "italic").text(row.sym);
    t.append("tspan").text(" = " + row.names[i] + row.unit);

    // k-point labels
    kLabels.forEach((lab, j) => {
      addText(svg, xB(kLabelFrac[j]), row.top + panelH + 24, 20).text(lab);
    });
    if (i === 5) addText(svg, xB(1), row.top + panelH + 24, 20).text("G");
  }

  // frames
  svg.append("rect").attr("x", panelX0).attr("y", row.top)
    .attr("width", 6 * panelW).attr("height", panelH)
    .attr("fill", "none").attr("stroke", "#000").attr("stroke-width", 2);
  for (let i = 1; i < 6; i++) {
    svg.append("line").attr("x1", panelX0 + i * panelW).attr("x2", panelX0 + i * panelW)
      .attr("y1", row.top).attr("y2", row.top + panelH)
      .attr("stroke", "#000").attr("stroke-width", 2);
  }
  // Fermi level
  svg.append("line").attr("x1", panelX0).attr("x2", panelX0 + 6 * panelW)
    .attr("y1", yB(0)).attr("y2", yB(0))
    .attr("stroke", RED).attr("stroke-width", 2.2).attr("stroke-dasharray", "10,6");

  // y axis
  const ax = svg.append("g").attr("transform", `translate(${panelX0},0)`)
    .call(d3.axisLeft(yB).tickValues(bandTicks).tickSize(7).tickPadding(0).tickFormat(d => d.toFixed(1)));
  ax.select(".domain").remove();
  ax.attr("font-size", null).attr("font-family", null);
  ax.selectAll("line").attr("stroke-width", 1.5);
  ax.selectAll("text").style("font-size", "20px").attr("transform", `scale(${SX},1)`);
  const axm = svg.append("g").attr("transform", `translate(${panelX0},0)`)
    .call(d3.axisLeft(yB).tickValues(bandMinor).tickSize(4).tickFormat(""));
  axm.select(".domain").remove();
  axm.selectAll("line").attr("stroke-width", 1.5);

  svg.append("text").attr("transform", `translate(22,${row.top + panelH / 2}) rotate(-90)`)
    .attr("text-anchor", "middle").style("font-size", "24px").text("Band gap (eV)");
  if (row.tag) addText(svg, 36, row.top - 13, 20).text(row.tag);
});

// ================= (c) and (d) =================
const cTop = 1773.7, cBot = 2162;
const yE = d3.scaleLinear().domain([0.132, 1.75]).range([cBot, cTop]);
const xC = d3.scaleLinear().domain([2.5, 4.9]).range([87.3, 509.3]);
const xD = d3.scaleLinear().domain([-0.702, 0.7]).range([509.3, 932.3]);

function styleAxis(ax, size) {
  ax.select(".domain").remove();
  ax.attr("font-size", null).attr("font-family", null);
  ax.selectAll("line").attr("stroke-width", 1.8);
  ax.selectAll("text").style("font-size", size + "px").attr("transform", `scale(${SX},1)`);
}
const range = (a, b, s) => d3.range(Math.round((b - a) / s) + 1).map(i => +(a + i * s).toFixed(2));

// axes of (c)
styleAxis(svg.append("g").attr("transform", "translate(87.3,0)")
  .call(d3.axisLeft(yE).tickValues(range(0.2, 1.6, 0.2)).tickSize(8).tickPadding(3).tickFormat(d => d.toFixed(1))), 19);
styleAxis(svg.append("g").attr("transform", "translate(87.3,0)")
  .call(d3.axisLeft(yE).tickValues(range(0.3, 1.7, 0.2)).tickSize(5).tickFormat("")), 19);
styleAxis(svg.append("g").attr("transform", `translate(0,${cBot})`)
  .call(d3.axisBottom(xC).tickValues(distC).tickSize(8).tickPadding(6).tickFormat(d => d.toFixed(1))), 19);
styleAxis(svg.append("g").attr("transform", `translate(0,${cBot})`)
  .call(d3.axisBottom(xC).tickValues(range(2.5, 4.9, 0.2)).tickSize(5).tickFormat("")), 19);
// axes of (d)
styleAxis(svg.append("g").attr("transform", `translate(0,${cBot})`)
  .call(d3.axisBottom(xD).tickValues(range(-0.6, 0.6, 0.2)).tickSize(8).tickPadding(6).tickFormat(d => d.toFixed(1))), 19);
styleAxis(svg.append("g").attr("transform", `translate(0,${cBot})`)
  .call(d3.axisBottom(xD).tickValues(range(-0.7, 0.7, 0.2)).tickSize(5).tickFormat("")), 19);

// dashed dividers
svg.append("line").attr("x1", xC(dividerC)).attr("x2", xC(dividerC)).attr("y1", yE(1.697)).attr("y2", cBot)
  .attr("stroke", RED).attr("stroke-width", 2.6).attr("stroke-dasharray", "10,6");
dividersD.forEach(v => svg.append("line").attr("x1", xD(v)).attr("x2", xD(v)).attr("y1", cTop).attr("y2", cBot)
  .attr("stroke", RED).attr("stroke-width", 2.6).attr("stroke-dasharray", "10,6"));
svg.append("line").attr("x1", xD(neutralD)).attr("x2", xD(neutralD)).attr("y1", cTop).attr("y2", cBot)
  .attr("stroke", "#000").attr("stroke-width", 2.6).attr("stroke-dasharray", "10,6");

function series(xs, xv, yv, color, kind, size) {
  const pts = xv.map((x, i) => [xs(x), yE(yv[i])]);
  svg.append("path").attr("d", d3.line()(pts)).attr("fill", "none").attr("stroke", color).attr("stroke-width", 2.4);
  const sym = kind === "circle" ? d3.symbolCircle : kind === "tri" ? d3.symbolTriangle : d3.symbolSquare;
  svg.selectAll(null).data(pts).join("path")
    .attr("d", d3.symbol().type(sym).size(size))
    .attr("transform", d => `translate(${d[0]},${d[1]})`).attr("fill", color);
}
series(xC, distC, phiSumC, "#000", "square", 100);
series(xC, distC, phiBnC, RED, "circle", 105);
series(xC, distC, phiBpC, BLUE, "tri", 75);
series(xD, fieldD, phiSumD, "#000", "square", 100);
series(xD, fieldBD, phiBnD, RED, "circle", 105);
series(xD, fieldBD, phiBpD, BLUE, "tri", 75);

// frames
svg.append("rect").attr("x", 87.3).attr("y", cTop).attr("width", 845).attr("height", cBot - cTop)
  .attr("fill", "none").attr("stroke", "#000").attr("stroke-width", 2.2);
svg.append("line").attr("x1", 509.3).attr("x2", 509.3).attr("y1", cTop).attr("y2", cBot)
  .attr("stroke", "#000").attr("stroke-width", 2.2);

// Phi label helper: Φ_a (+Φ_b)
function phiText(x, y, size, subs) {
  const t = addText(svg, x, y, size, "start");
  subs.forEach((s, i) => {
    t.append("tspan").attr("dy", i === 0 ? 0 : -size * 0.32).text((i > 0 ? "+" : "") + "Φ");
    t.append("tspan").attr("dy", size * 0.32).style("font-size", (size * 0.72) + "px").text(s);
  });
  return t;
}

function legend(x1, x2, rowsY, items) {
  items.forEach((it, i) => {
    const y = rowsY[i];
    svg.append("line").attr("x1", x1).attr("x2", x2).attr("y1", y).attr("y2", y)
      .attr("stroke", it.color).attr("stroke-width", 2.4);
    const sym = it.kind === "circle" ? d3.symbolCircle : it.kind === "tri" ? d3.symbolTriangle : d3.symbolSquare;
    svg.append("path").attr("d", d3.symbol().type(sym).size(it.size))
      .attr("transform", `translate(${(x1 + x2) / 2},${y})`).attr("fill", it.color);
    phiText(x2 + 6, y + 6, 21, it.subs);
  });
}
legend(220, 275, [1836, 1874.4, 1913], [
  { color: RED, kind: "circle", size: 260, subs: ["Bn"] },
  { color: BLUE, kind: "tri", size: 200, subs: ["Bp"] },
  { color: "#000", kind: "square", size: 240, subs: ["Bn", "Bp"] }
]);
legend(595, 650, [1896.8, 1934.4, 1972.3], [
  { color: BLUE, kind: "tri", size: 200, subs: ["Bp"] },
  { color: RED, kind: "circle", size: 260, subs: ["Bn"] },
  { color: "#000", kind: "square", size: 240, subs: ["Bn", "Bp"] }
]);

// band alignment sketch
function sketch(x0, x1, yC, yF, yV, ax) {
  svg.append("line").attr("x1", x0).attr("x2", x1).attr("y1", yC).attr("y2", yC).attr("stroke", RED).attr("stroke-width", 1.6);
  svg.append("line").attr("x1", x0).attr("x2", x1).attr("y1", yV).attr("y2", yV).attr("stroke", BLUE).attr("stroke-width", 1.6);
  svg.append("line").attr("x1", x0).attr("x2", x1).attr("y1", yF).attr("y2", yF).attr("stroke", "#000")
    .attr("stroke-width", 1.3).attr("stroke-dasharray", "3,2");
  svg.append("line").attr("x1", x0).attr("x2", x0).attr("y1", yC).attr("y2", yV).attr("stroke", RED)
    .attr("stroke-width", 1.3).attr("stroke-dasharray", "2,2");
  [[yC, yF, RED], [yF, yV, BLUE]].forEach(([a, b, c]) => {
    svg.append("line").attr("x1", ax).attr("x2", ax).attr("y1", a + 3).attr("y2", b - 3).attr("stroke", c).attr("stroke-width", 1.4);
    svg.append("path").attr("d", `M${ax - 3},${a + 8}L${ax},${a + 1}L${ax + 3},${a + 8}Z`).attr("fill", c);
    svg.append("path").attr("d", `M${ax - 3},${b - 8}L${ax},${b - 1}L${ax + 3},${b - 8}Z`).attr("fill", c);
  });
  const mid = (x0 + x1) / 2;
  addText(svg, mid, yC - 8, 18).text("CBM");
  addText(svg, mid, yV + 21, 18).text("VBM");
  phiText(ax + 10, (yC + yF) / 2 + 6, 19, ["Bn"]);
  phiText(ax + 10, (yF + yV) / 2 + 6, 19, ["Bp"]);
  [["C", yC], ["F", yF], ["V", yV]].forEach(([s, y]) => {
    const t = addText(svg, x1 + 3, y + 7, 20, "start");
    t.append("tspan").style("font-style", "italic").text("E");
    t.append("tspan").attr("dy", 5).style("font-size", "13px").text(s);
  });
}
sketch(393, 466.7, 1843.8, 1894, 1936.7, 420.7);
sketch(770, 845, 1942.5, 1988.6, 2035, 797.7);

// rotated region notes
function note(x, y, txt) {
  svg.append("text").attr("transform", `translate(${x},${y}) rotate(-45)`)
    .attr("text-anchor", "middle").attr("dy", "0.35em").style("font-size", "22px").text(txt);
}
note(176.7, 2040.8, "p-type Schottky");
note(208.3, 2052, "Contact");
note(439, 2073, "n-type Schottky");
note(462, 2112, "Contact");
note(551, 2029, "Ohmic");
note(566, 2062, "Contact");
note(656, 2048, "p-type Schottky");
note(669, 2065, "Contact");
note(771.7, 1847.5, "n-type");
note(786, 1874.5, "Schottky");
note(829, 1883, "Contact");
note(902.5, 1960, "Ohmic");
note(904, 1996.5, "Contact");

// titles and panel tags
svg.append("text").attr("transform", `translate(21,${(cTop + cBot) / 2}) rotate(-90)`)
  .attr("text-anchor", "middle").style("font-size", "25px").text("Energy (eV)");
addText(svg, 318, 2218, 23).text("Interlayer distance (Å)");
addText(svg, 750, 2218, 23).text("Electric field (V/Å)");
addText(svg, 103, 1757, 20).text("(c)");
addText(svg, 527, 1757, 20).text("(d)");
</script>
</body>
</html>
